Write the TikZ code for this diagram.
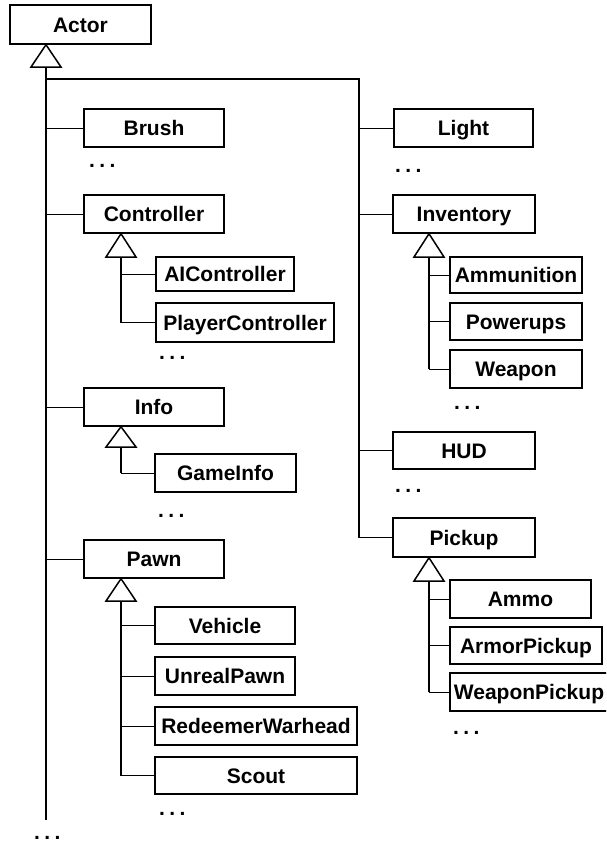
\documentclass[tikz,border=0pt]{standalone}
\usepackage{fontspec}
\setmainfont{Liberation Sans}
\newcommand\mydots{.\hspace{4.4pt}.\hspace{4.4pt}.}
\begin{document}
\begin{tikzpicture}[x=1pt,y=-1pt,
  cls/.style={draw=black, line width=1.5pt, fill=white, inner sep=0pt,
    font=\fontsize{21}{25}\selectfont\bfseries, text height=15pt, text depth=0pt},
  more/.style={anchor=west, inner sep=0pt, font=\fontsize{21}{25}\selectfont\bfseries},
  mainline/.style={line width=2pt},
  subline/.style={line width=1.4pt},
  conn/.style={line width=1pt},
  tri/.style={draw=black, line width=1.5pt, fill=white, line join=miter}]
\useasboundingbox (0,0) rectangle (606,846);
\clip (0,0) rectangle (606,846);
% boxes: name, x1, y1, x2, y2, text
\newcommand\umlbox[7]{\node[cls, minimum width=#4-#2, minimum height=#5-#3] (#1) at ({(#2+#4)/2},{(#3+#5)/2}) {#7#6};}
\umlbox{actor}{10}{5}{151}{44}{Actor}{}
\umlbox{brush}{84}{109}{224}{147}{Brush}{}
\umlbox{controller}{84}{195}{224}{233}{Controller}{}
\umlbox{aictl}{156}{257}{294}{291}{AIController}{}
\umlbox{plctl}{156}{303}{334}{342}{PlayerController}{}
\umlbox{info}{84}{388}{224}{426}{Info}{}
\umlbox{gameinfo}{155}{454}{296}{492}{GameInfo}{}
\umlbox{pawn}{84}{540}{224}{578}{Pawn}{}
\umlbox{vehicle}{155}{607}{295}{644}{Vehicle}{}
\umlbox{unrealpawn}{155}{657}{295}{695}{UnrealPawn}{}
\umlbox{redeemer}{155}{707}{357}{745}{RedeemerWarhead}{}
\umlbox{scout}{155}{757}{357}{794}{Scout}{}
\umlbox{light}{394}{109}{533}{147}{Light}{}
\umlbox{inventory}{393}{195}{535}{233}{Inventory}{}
\umlbox{ammunition}{450}{257}{582}{293}{Ammunition}{}
\umlbox{powerups}{450}{303}{582}{340}{Powerups}{}
\umlbox{weapon}{450}{350}{582}{388}{Weapon}{}
\umlbox{hud}{393}{432}{535}{469}{HUD}{}
\umlbox{pickup}{393}{518}{535}{557}{Pickup}{}
\umlbox{ammo}{450}{580}{591}{618}{Ammo}{}
\umlbox{armorpickup}{450}{627}{602}{664}{ArmorPickup}{}
\umlbox{weaponpickup}{450}{673}{608}{711}{WeaponPickup}{}
% dots
\node[more] (d1) at (89,166) {\mydots};
\node[more] (d2) at (159,358) {\mydots};
\node[more] (d3) at (158,516) {\mydots};
\node[more] (d4) at (159,814) {\mydots};
\node[more] (d5) at (34,838) {\mydots};
\node[more] (d6) at (395,171) {\mydots};
\node[more] (d7) at (454,408) {\mydots};
\node[more] (d8) at (395,491) {\mydots};
\node[more] (d9) at (453,733) {\mydots};
% triangle bases (coordinates)
\coordinate (tA) at (46,67);
\coordinate (tC) at (121,257);
\coordinate (tI) at (121,447);
\coordinate (tP) at (121,601);
\coordinate (tV) at (429,257);
\coordinate (tK) at (429,581);
\coordinate (trunkend) at (46,820);
\coordinate (rt) at (359,79);
% trunk
\draw[mainline] (tA) -- (trunkend);
\draw[mainline] (tA |- rt) -- (rt) -- (rt |- pickup);
% left branches
\draw[conn] (tA |- brush) -- (brush);
\draw[conn] (tA |- controller) -- (controller);
\draw[conn] (tA |- info) -- (info);
\draw[conn] (tA |- pawn) -- (pawn);
% right branches
\draw[conn] (rt |- light) -- (light);
\draw[conn] (rt |- inventory) -- (inventory);
\draw[conn] (rt |- hud) -- (hud);
\draw[conn] (rt |- pickup) -- (pickup);
% sub hierarchies
\draw[subline] (tC) -- (tC |- plctl);
\draw[conn] (tC |- aictl) -- (aictl);
\draw[conn] (tC |- plctl) -- (plctl);
\draw[subline] (tI) -- (tI |- gameinfo);
\draw[conn] (tI |- gameinfo) -- (gameinfo);
\draw[subline] (tP) -- (tP |- scout);
\draw[conn] (tP |- vehicle) -- (vehicle);
\draw[conn] (tP |- unrealpawn) -- (unrealpawn);
\draw[conn] (tP |- redeemer) -- (redeemer);
\draw[conn] (tP |- scout) -- (scout);
\draw[subline] (tV) -- (tV |- weapon);
\draw[conn] (tV |- ammunition) -- (ammunition);
\draw[conn] (tV |- powerups) -- (powerups);
\draw[conn] (tV |- weapon) -- (weapon);
\draw[subline] (tK) -- (tK |- weaponpickup);
\draw[conn] (tK |- ammo) -- (ammo);
\draw[conn] (tK |- armorpickup) -- (armorpickup);
\draw[conn] (tK |- weaponpickup) -- (weaponpickup);
% inheritance triangles
\draw[tri] (tA |- actor.south) -- ([xshift=-15pt]tA) -- ([xshift=15pt]tA) -- cycle;
\draw[tri] (tC |- controller.south) -- ([xshift=-15pt]tC) -- ([xshift=15pt]tC) -- cycle;
\draw[tri] (tI |- info.south) -- ([xshift=-15pt]tI) -- ([xshift=15pt]tI) -- cycle;
\draw[tri] (tP |- pawn.south) -- ([xshift=-15pt]tP) -- ([xshift=15pt]tP) -- cycle;
\draw[tri] (tV |- inventory.south) -- ([xshift=-15pt]tV) -- ([xshift=15pt]tV) -- cycle;
\draw[tri] (tK |- pickup.south) -- ([xshift=-15pt]tK) -- ([xshift=15pt]tK) -- cycle;
\end{tikzpicture}
\end{document}
